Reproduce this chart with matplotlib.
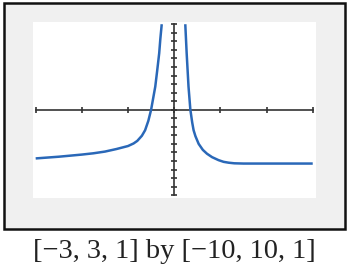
import matplotlib
matplotlib.use("Agg")
import matplotlib.pyplot as plt
from matplotlib.patches import Rectangle

# data
left_x = [-3, -2.5, -2, -1.75, -1.5, -1.25, -1, -0.88, -0.8, -0.7, -0.63, -0.56, -0.5, -0.45, -0.41, -0.37, -0.325, -0.3, -0.27]
left_y = [-5.7, -5.5, -5.25, -5.1, -4.9, -4.6, -4.25, -3.95, -3.65, -3.05, -2.4, -1.3, 0.0, 1.5, 2.7, 4.5, 6.6, 8.3, 10.0]
right_x = [0.24, 0.27, 0.31, 0.35, 0.39, 0.42, 0.46, 0.53, 0.62, 0.71, 0.82, 0.96, 1.07, 1.18, 1.3, 1.5, 2, 2.5, 3]
right_y = [10, 6.6, 2.7, 0, -1.5, -2.4, -3.1, -4.0, -4.7, -5.15, -5.55, -5.9, -6.1, -6.2, -6.27, -6.3, -6.3, -6.3, -6.3]
x_ticks = [-3, -2, -1, 0, 1, 2, 3]
y_ticks = list(range(-10, 11))
caption = "[\u22123, 3, 1] by [\u221210, 10, 1]"

W, H = 352, 280
fig = plt.figure(figsize=(W / 100, H / 100), dpi=100)
fig.patch.set_facecolor("white")

# outer calculator-screen frame
fig.patches.append(Rectangle((4 / W, 1 - 229 / H), (345 - 4) / W, (229 - 3) / H,
                             transform=fig.transFigure, facecolor="#f0f0f0",
                             edgecolor="#111111", linewidth=1.8, zorder=-5))

ax = fig.add_axes([33 / W, 1 - 198 / H, (316 - 33) / W, (198 - 22) / H])
ax.set_zorder(2)
ax.set_facecolor("white")
ax.set_xlim(-3.058, 3.071)
ax.set_ylim(-10.33, 10.26)

ax.plot(left_x, left_y, color="#2a68b8", lw=1.8, solid_capstyle="butt",
        solid_joinstyle="round", zorder=3)
ax.plot(right_x, right_y, color="#2a68b8", lw=1.8, solid_capstyle="butt",
        solid_joinstyle="round", zorder=3)

for s in ["top", "right"]:
    ax.spines[s].set_visible(False)
ax.spines["left"].set_position(("data", 0))
ax.spines["bottom"].set_position(("data", 0))
ax.spines["left"].set_bounds(-10, 10)
ax.spines["bottom"].set_bounds(-3, 3)
for s in ["left", "bottom"]:
    ax.spines[s].set_color("#333333")
    ax.spines[s].set_linewidth(1.2)
ax.set_xticks(x_ticks)
ax.set_yticks(y_ticks)
ax.tick_params(axis="both", direction="inout", length=5, width=1.2, color="#333333",
               labelbottom=False, labelleft=False)

fig.text(174 / W, 1 - 252 / H, caption, ha="center", va="center",
         fontfamily="Liberation Serif", fontsize=20.5, color="#222222")

fig.savefig("out.png", dpi=100)
